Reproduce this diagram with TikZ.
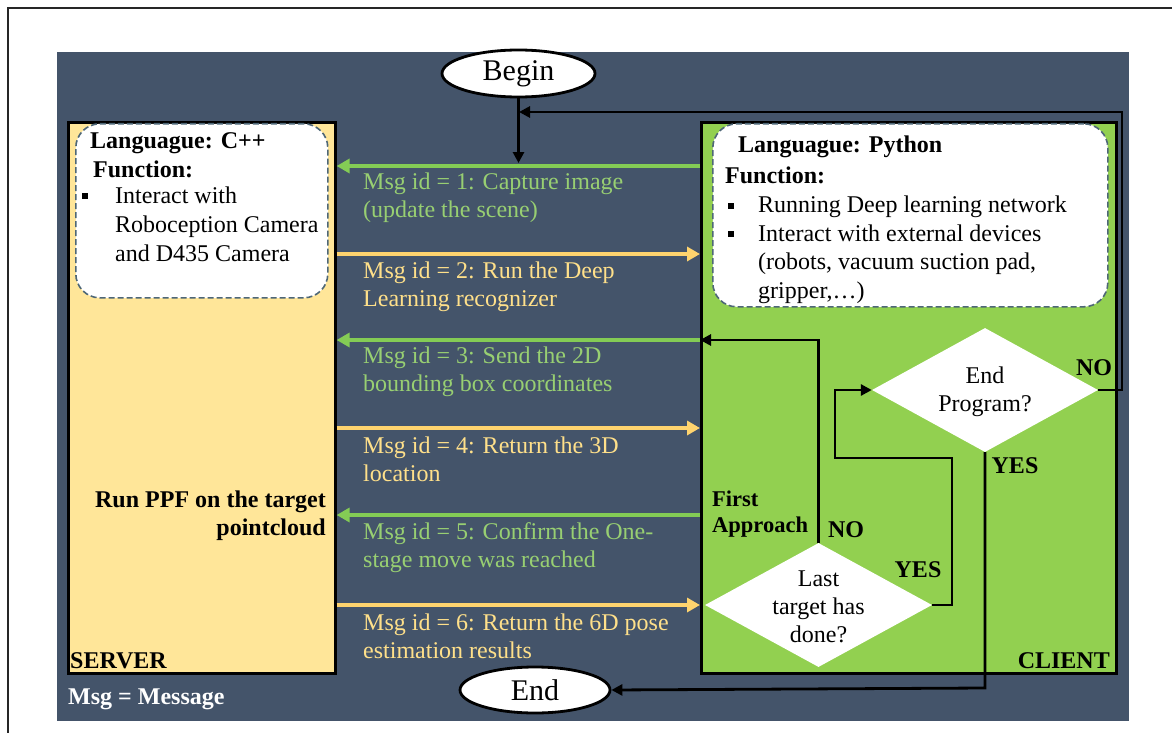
\documentclass[tikz,border=0pt]{standalone}
\usepackage{fontspec}
\setmainfont{Liberation Serif}
\usetikzlibrary{arrows.meta,shapes.geometric}
\definecolor{bgdark}{HTML}{44546A}
\definecolor{clientgreen}{HTML}{92D050}
\definecolor{serveryellow}{HTML}{FFE699}
\definecolor{arrgreen}{HTML}{84CC55}
\definecolor{arryellow}{HTML}{FFD46E}
\definecolor{txtgreen}{HTML}{98CF72}
\definecolor{txtyellow}{HTML}{FFE08A}
\definecolor{dashgray}{HTML}{4E6777}
\tikzset{
  panel/.style={draw=black, line width=2.6pt, inner sep=0pt, anchor=north west},
  infobox/.style={draw=dashgray, dash pattern=on 6pt off 3pt, line width=1.6pt, fill=white, rounded corners=24pt, inner sep=0pt, anchor=north west},
  msggreen/.style={draw=arrgreen, line width=4pt, -{Triangle[length=13pt,width=14pt]}},
  msgyellow/.style={draw=arryellow, line width=4pt, -{Triangle[length=13pt,width=14pt]}},
  flow/.style={draw=black, line width=2.8pt},
  flowarr/.style={flow, -{Triangle[length=11pt,width=11pt]}},
  term/.style={ellipse, draw=black, line width=2.8pt, fill=white, inner sep=0pt, font=\fontsize{30}{34}\selectfont},
  decision/.style={diamond, draw=none, fill=white, inner sep=0pt},
  dtext/.style={inner sep=0pt, align=center, font=\fontsize{24}{28}\selectfont},
  gtext/.style={text=txtgreen, anchor=north west, align=left, inner sep=0pt, font=\fontsize{24}{28}\selectfont},
  ytext/.style={text=txtyellow, anchor=north west, align=left, inner sep=0pt, font=\fontsize{24}{28}\selectfont},
  btext/.style={inner sep=0pt, align=left, font=\bfseries\fontsize{24}{26}\selectfont},
  ntext/.style={inner sep=0pt, anchor=north west, align=left, font=\fontsize{24}{29}\selectfont},
  bullet/.style={rectangle, fill=black, inner sep=0pt, minimum size=6.5pt},
}
\begin{document}
\begin{tikzpicture}[x=1pt,y=-1pt]
\useasboundingbox (0,0) rectangle (1172,733);
\fill[white] (0,0) rectangle (1172,733);
% outer frame
\draw[line width=2pt,black!85] (1172,8) -- (8,8) -- (8,733);
% dark background
\fill[bgdark] (57,52) rectangle (1129,721);
% server
\node[panel, fill=serveryellow, minimum width=267pt, minimum height=551pt] (server) at (67,121) {};
\node[infobox, minimum width=252pt, minimum height=174pt] (cbox) at (75,123) {};
\node[btext, anchor=base west] (clang) at (90,149) {Languague: C++};
\node[btext, anchor=base west] (cfunc) at (93,177) {Function:};
\node[bullet] (cbul) at (85,196) {};
\node[ntext] (citems) at (115,187) {Interact with\\Roboception Camera\\and D435 Camera};
\node[btext, anchor=north east, align=right, font=\bfseries\fontsize{24}{28}\selectfont] (ppf) at (326,491) {Run PPF on the target\\pointcloud};
\node[btext, anchor=base west] (srvlbl) at (70,668) {SERVER};
\node[btext, anchor=base west, text=white] (msglbl) at (68,704) {Msg = Message};
% client
\node[panel, fill=clientgreen, minimum width=415pt, minimum height=551pt] (client) at (700,121) {};
\node[infobox, minimum width=395pt, minimum height=183pt] (pbox) at (712,123) {};
\node[btext, anchor=base west] (plang) at (738,152) {Languague: Python};
\node[btext, anchor=base west] (pfunc) at (725,183) {Function:};
\node[bullet] (pb1) at (731,206) {};
\node[bullet] (pb2) at (731,234) {};
\node[ntext, font=\fontsize{24}{28.7}\selectfont] (pitems) at (758,195.5) {Running Deep learning network\\Interact with external devices\\(robots, vacuum suction pad,\\gripper,\ldots)};
\node[btext, anchor=base east] (clilbl) at (1110,668) {CLIENT};
% terminals
\node[term, minimum width=153pt, minimum height=47pt] (begin) at (518.5,73.5) {Begin};
\node[term, minimum width=150pt, minimum height=46pt] (end) at (535,690) {End};
% message arrows
\coordinate (s1) at (server.east |- 0,166); \coordinate (c1) at (client.west |- 0,166);
\coordinate (s2) at (server.east |- 0,254); \coordinate (c2) at (client.west |- 0,254);
\coordinate (s3) at (server.east |- 0,340); \coordinate (c3) at (client.west |- 0,340);
\coordinate (s4) at (server.east |- 0,428); \coordinate (c4) at (client.west |- 0,428);
\coordinate (s5) at (server.east |- 0,515); \coordinate (c5) at (client.west |- 0,515);
\coordinate (s6) at (server.east |- 0,605); \coordinate (c6) at (client.west |- 0,605);
\draw[msggreen] (c1) -- (s1);
\draw[msgyellow] (s2) -- (c2);
\draw[msggreen] (c3) -- (s3);
\draw[msgyellow] (s4) -- (c4);
\draw[msggreen] (c5) -- (s5);
\draw[msgyellow] (s6) -- (c6);
\node[gtext] (m1) at (363,173) {Msg id = 1: Capture image\\(update the scene)};
\node[ytext] (m2) at (363,262) {Msg id = 2: Run the Deep\\Learning recognizer};
\node[gtext] (m3) at (363,347) {Msg id = 3: Send the 2D\\bounding box coordinates};
\node[ytext] (m4) at (363,437) {Msg id = 4: Return the 3D\\location};
\node[gtext] (m5) at (363,522) {Msg id = 5: Confirm the One-\\stage move was reached};
\node[ytext] (m6) at (363,614) {Msg id = 6: Return the 6D pose\\estimation results};
% decisions
\node[decision, minimum width=227pt, minimum height=124pt] (last) at (818.5,605) {};
\node[dtext] (lasttxt) at (818.5,607) {Last\\target has\\done?};
\node[decision, minimum width=226pt, minimum height=124pt] (endp) at (985,390) {};
\node[dtext] (endptxt) at (985,392) {End\\Program?};
% flow lines
\coordinate (fbcorner) at (1122,390);
\coordinate (fbtop) at (1122,112);
\coordinate (bjoin) at (519,112);
\draw[flowarr] (begin.south) -- (518.5,163);
\draw[flowarr] (endp.east) -- (fbcorner) -- (fbtop) -- (bjoin);
\draw[flowarr] (last.north) -- (818.5,340) -- (c3);
\draw[flowarr] (last.east) -- (952,605) -- (952,458) -- (835,458) -- (835,390) -- (endp.west);
\draw[flowarr] (endp.south) -- (985,688) -- (end.east);
% labels
\node[btext, anchor=north west, font=\bfseries\fontsize{22.5}{26}\selectfont] (fa) at (712,491) {First\\Approach};
\node[btext, anchor=base] (no1) at (846,537) {NO};
\node[btext, anchor=base] (yes1) at (918,577) {YES};
\node[btext, anchor=base] (no2) at (1094,375) {NO};
\node[btext, anchor=base] (yes2) at (1015,473) {YES};
\end{tikzpicture}
\end{document}
